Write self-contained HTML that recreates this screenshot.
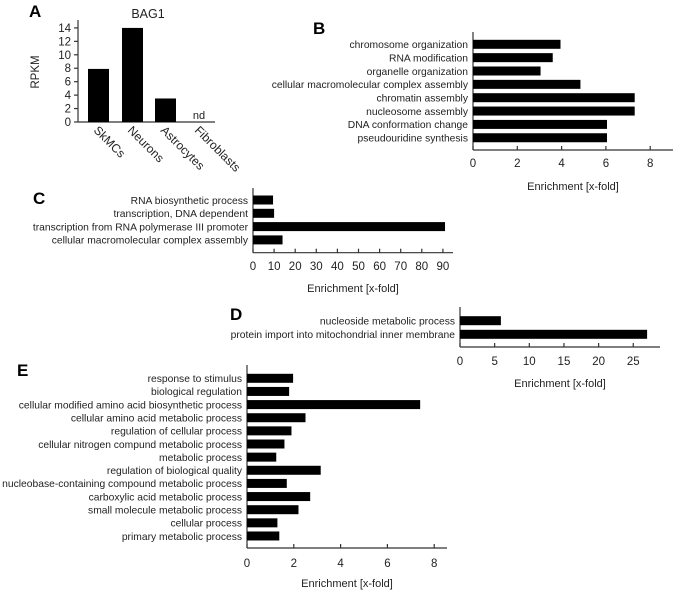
<!DOCTYPE html>
<html><head><meta charset="utf-8"><style>
body{margin:0;background:#fff}
svg{display:block;font-family:"Liberation Sans",Arial,sans-serif}
</style></head><body>
<svg id="fig" width="675" height="591" viewBox="0 0 675 591"></svg>
<script>
const aCats=["SkMCs","Neurons","Astrocytes","Fibroblasts"];
const aVals=[7.9,14,3.5,null];
const aTicks=[0,2,4,6,8,10,12,14];
const bCats=["chromosome organization","RNA modification","organelle organization","cellular macromolecular complex assembly","chromatin assembly","nucleosome assembly","DNA conformation change","pseudouridine synthesis"];
const bVals=[3.95,3.6,3.05,4.85,7.3,7.3,6.05,6.05];
const bTicks=[0,2,4,6,8];
const cCats=["RNA biosynthetic process","transcription, DNA dependent","transcription from RNA polymerase III promoter","cellular macromolecular complex assembly"];
const cVals=[9.5,10,91,14];
const cTicks=[0,10,20,30,40,50,60,70,80,90];
const dCats=["nucleoside metabolic process","protein import into mitochondrial inner membrane"];
const dVals=[5.9,27];
const dTicks=[0,5,10,15,20,25];
const eCats=["response to stimulus","biological regulation","cellular modified amino acid biosynthetic process","cellular amino acid metabolic process","regulation of cellular process","cellular nitrogen compund metabolic process","metabolic process","regulation of biological quality","nucleobase-containing compound metabolic process","carboxylic acid metabolic process","small molecule metabolic process","cellular process","primary metabolic process"];
const eVals=[1.97,1.8,7.4,2.5,1.9,1.6,1.25,3.15,1.7,2.7,2.2,1.3,1.38];
const eTicks=[0,2,4,6,8];

const NS="http://www.w3.org/2000/svg";
const svg=document.getElementById('fig');
function mk(tag,attrs,parent,text){const e=document.createElementNS(NS,tag);for(const k in attrs)e.setAttribute(k,attrs[k]);if(text!==undefined)e.textContent=text;(parent||svg).appendChild(e);return e;}
function line(x1,y1,x2,y2,g){return mk('line',{x1,y1,x2,y2,stroke:'#333','stroke-width':1.2},g);}

function letter(t,x,y){const e=mk('text',{x,y,'font-size':17,'font-weight':'bold'},svg,t);

}

function hbar(id,cats,vals,ticks,o){
  const g=mk('g',{});
  
  
  const x=v=>o.x0+v*o.ppu;
  const y=i=>o.yc0+i*o.step;
  line(o.x0,o.top,o.x0,o.axY,g);
  line(o.x0,o.axY,o.xEnd,o.axY,g);
  ticks.forEach(t=>{
    line(x(t),o.axY,x(t),o.axY-4,g);
    const tl=mk('text',{x:x(t),y:o.tickY,'font-size':11.5,'text-anchor':'middle',fill:'#222'},g,String(t));
    
    
  });
  cats.forEach((c,i)=>{
    const r=mk('rect',{x:o.x0,y:y(i)-o.bh/2,width:x(vals[i])-o.x0,height:o.bh,fill:'#000'},g);
    
    
    const t=mk('text',{x:o.x0-5,y:y(i)+3.8,'font-size':10.3,'text-anchor':'end',fill:'#222'},g,c);
    
    
  });
  const ti=mk('text',{x:o.titleX,y:o.titleY,'font-size':11,'text-anchor':'middle',fill:'#222'},g,'Enrichment [x-fold]');
  
  
}

// Panel A
(function(){
  const g=mk('g',{});
  
  
  const x0=78,y0=122,ppu=6.72;
  const y=v=>y0-v*ppu;
  line(x0,20,x0,y0,g);line(x0,y0,215,y0,g);
  aTicks.forEach(t=>{line(x0-4,y(t),x0,y(t),g);
    const tl=mk('text',{x:x0-7,y:y(t)+4,'font-size':11.5,'text-anchor':'end',fill:'#222'},g,String(t));
    
    });
  const barX=[88,122,155,189];
  aCats.forEach((c,i)=>{
    if(aVals[i]!==null){const r=mk('rect',{x:barX[i],y:y(aVals[i]),width:21,height:aVals[i]*ppu,fill:'#000'},g);
      
      }
    else{const nd=mk('text',{x:barX[i]+10,y:y0-3,'font-size':11,'text-anchor':'middle',fill:'#222'},g,'nd');
      
      }
    const cx=barX[i]+5,cy=y0+9;
    const t=mk('text',{x:cx,y:cy,'font-size':12,fill:'#222',transform:`rotate(45 ${cx} ${cy})`},g,c);
    
    
  });
  const yt=mk('text',{x:39,y:72,'font-size':11.5,'text-anchor':'middle',fill:'#222',transform:'rotate(-90 39 72)'},g,'RPKM');
  
  
  const tt=mk('text',{x:148,y:18,'font-size':12.5,'text-anchor':'middle',fill:'#222'},g,'BAG1');
  
  
})();
letter('A',29,17);

hbar('b',bCats,bVals,bTicks,{x0:473,ppu:22.15,yc0:44.3,step:13.35,bh:9,top:32,axY:150,xEnd:673,tickY:167,titleX:573,titleY:190});
letter('B',313,34);
hbar('c',cCats,cVals,cTicks,{x0:253,ppu:2.11,yc0:200,step:13.3,bh:9,top:188,axY:252.7,xEnd:453,tickY:270,titleX:353,titleY:292});
letter('C',33,204);
hbar('d',dCats,dVals,dTicks,{x0:460,ppu:6.93,yc0:320.7,step:13.6,bh:9,top:307,axY:347,xEnd:660,tickY:365,titleX:560,titleY:387});
letter('D',230,320);
hbar('e',eCats,eVals,eTicks,{x0:247,ppu:23.4,yc0:378.3,step:13.14,bh:9,top:365,axY:548,xEnd:447,tickY:567,titleX:347,titleY:587});
letter('E',17,376);
</script>
</body></html>
